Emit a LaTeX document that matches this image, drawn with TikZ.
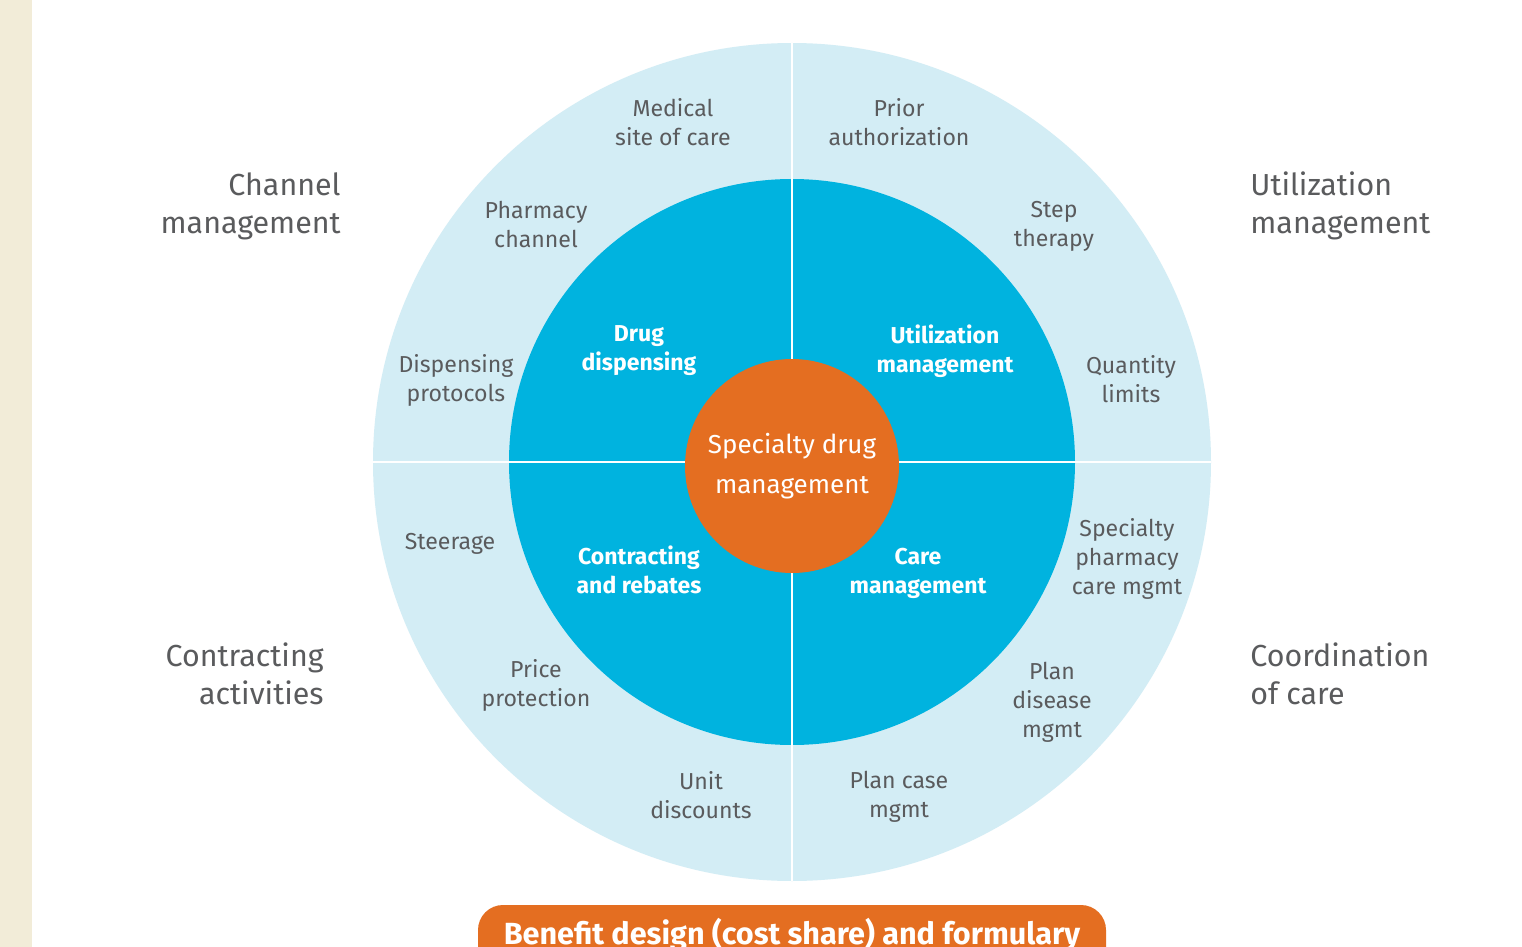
\documentclass[tikz,border=0pt]{standalone}
\usepackage{fontspec}
\setmainfont{Fira Sans}
\begin{document}
\definecolor{ringlight}{HTML}{D3EDF5}
\definecolor{ringcyan}{HTML}{00B3DF}
\definecolor{hub}{HTML}{E46E21}
\definecolor{strip}{HTML}{F2ECD8}
\definecolor{ink}{HTML}{5A5B5D}
\begin{tikzpicture}[x=0.5pt,y=-0.5pt,
  outerlbl/.style={text=ink,font=\fontsize{11.55}{14.5}\selectfont,align=center,inner sep=0pt},
  sectlbl/.style={text=white,font=\fontsize{11.5}{14.5}\selectfont\bfseries,align=center,inner sep=0pt},
  grouplbl/.style={text=ink,font=\fontsize{15.2}{19}\selectfont,inner sep=0pt},
  divider/.style={white,line width=0.6pt}]
\clip (0,0) rectangle (1522,947);
\fill[white] (0,0) rectangle (1522,947);
\fill[strip] (0,0) rectangle (32,947);

% rings
\node[circle,fill=ringlight,minimum size=419pt,inner sep=0pt] (outer) at (792,462) {};
\node[circle,fill=ringcyan,minimum size=283pt,inner sep=0pt] (inner) at (792,462) {};
\draw[divider] (outer.north) -- (outer.south);
\draw[divider] (outer.west) -- (outer.east);
\node[circle,fill=hub,minimum size=107pt,inner sep=0pt,text=white,
      font=\fontsize{13}{20}\selectfont,align=center] (hub) at (792,466)
      {Specialty drug\\management};

% group headings
\node[grouplbl,align=right,anchor=east] (g1) at (341,206) {Channel\\management};
\node[grouplbl,align=left,anchor=west] (g2) at (1250,206) {Utilization\\management};
\node[grouplbl,align=right,anchor=east] (g3) at (324,674) {Contracting\\activities};
\node[grouplbl,align=left,anchor=west] (g4) at (1250,674) {Coordination\\of care};

% inner sectors
\node[sectlbl] (s1) at (639,351) {Drug\\dispensing};
\node[sectlbl] (s2) at (945,351) {Utilization\\management};
\node[sectlbl] (s3) at (639,570) {Contracting\\and rebates};
\node[sectlbl] (s4) at (918,573) {Care\\management};

% outer ring items
\node[outerlbl] (o1) at (673,122) {Medical\\site of care};
\node[outerlbl] (o2) at (899,122) {Prior\\authorization};
\node[outerlbl] (o3) at (536,224) {Pharmacy\\channel};
\node[outerlbl] (o4) at (1054,226) {Step\\therapy};
\node[outerlbl] (o5) at (456,380) {Dispensing\\protocols};
\node[outerlbl] (o6) at (1131,379) {Quantity\\limits};
\node[outerlbl] (o7) at (450,544) {Steerage};
\node[outerlbl] (o8) at (1127,559) {Specialty\\pharmacy\\care mgmt};
\node[outerlbl] (o9) at (536,685) {Price\\protection};
\node[outerlbl] (o10) at (1052,702) {Plan\\disease\\mgmt};
\node[outerlbl] (o11) at (701,795) {Unit\\discounts};
\node[outerlbl] (o12) at (899,797) {Plan case\\mgmt};

% bottom banner
\fill[hub,rounded corners=12.5pt] (478,905) rectangle (1106,1000);
\node[text=white,font=\fontsize{15.3}{18}\selectfont\bfseries,anchor=base,inner sep=0pt] (banner) at (792,944) {Benefit design (cost share) and formulary};
\end{tikzpicture}
\end{document}
